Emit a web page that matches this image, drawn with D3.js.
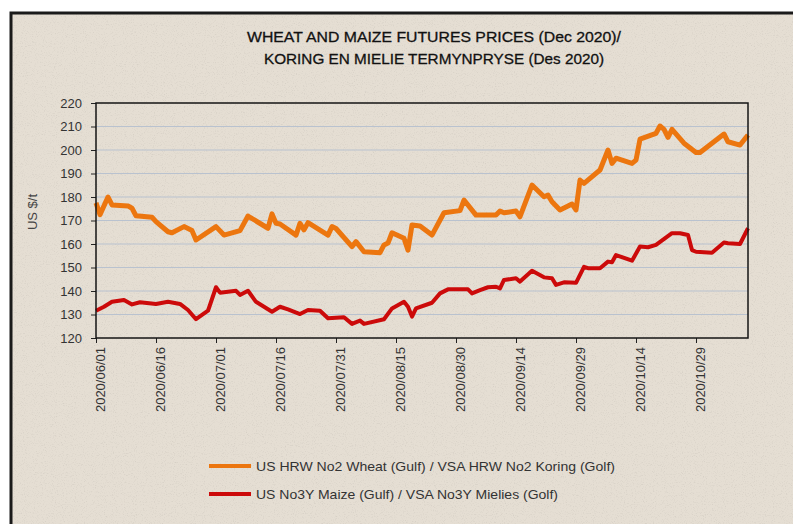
<!DOCTYPE html>
<html><head><meta charset="utf-8">
<script src="https://cdn.jsdelivr.net/npm/d3@7"></script>
<style>html,body{margin:0;padding:0;background:#fff;}svg{display:block;}</style>
</head><body>
<svg id="chart" width="793" height="524"></svg>
<script>
const titleLines = ["WHEAT AND MAIZE FUTURES PRICES (Dec 2020)/", "KORING EN MIELIE TERMYNPRYSE  (Des 2020)"];
const yLabel = "US $/t";
const yTicks = [120,130,140,150,160,170,180,190,200,210,220];
const xTickLabels = ["2020/06/01","2020/06/16","2020/07/01","2020/07/16","2020/07/31","2020/08/15","2020/08/30","2020/09/14","2020/09/29","2020/10/14","2020/10/29"];
const xDomain = ["2020/06/01","2020/11/11"];
const seriesNames = ["US HRW No2 Wheat (Gulf) / VSA HRW No2 Koring (Golf)", "US No3Y Maize (Gulf) / VSA No3Y Mielies (Golf)"];
const seriesColors = ["#ec760f", "#cc0a0a"];

const wheatDates = ["2020/06/01","2020/06/02","2020/06/04","2020/06/05","2020/06/09","2020/06/10","2020/06/11","2020/06/15","2020/06/16","2020/06/19","2020/06/20","2020/06/23","2020/06/25","2020/06/26","2020/07/01","2020/07/03","2020/07/07","2020/07/09","2020/07/14","2020/07/15","2020/07/16","2020/07/17","2020/07/21","2020/07/22","2020/07/23","2020/07/24","2020/07/29","2020/07/30","2020/07/31","2020/08/04","2020/08/05","2020/08/07","2020/08/11","2020/08/12","2020/08/13","2020/08/14","2020/08/17","2020/08/18","2020/08/19","2020/08/21","2020/08/24","2020/08/27","2020/08/31","2020/09/01","2020/09/04","2020/09/09","2020/09/10","2020/09/11","2020/09/14","2020/09/15","2020/09/18","2020/09/21","2020/09/22","2020/09/23","2020/09/25","2020/09/28","2020/09/29","2020/09/30","2020/10/01","2020/10/05","2020/10/07","2020/10/08","2020/10/09","2020/10/13","2020/10/14","2020/10/15","2020/10/19","2020/10/20","2020/10/21","2020/10/22","2020/10/23","2020/10/26","2020/10/29","2020/10/30","2020/11/05","2020/11/06","2020/11/09","2020/11/11"];
const wheatValues = [177.5,172.5,180,176.6,176.2,175.2,172,171.4,169.5,165.2,164.8,167.4,165.7,161.7,167.4,163.8,165.7,171.9,166.7,172.8,168.8,168.5,163.8,168.8,166,169.1,163.8,167.4,166.6,158.9,161,156.7,156.3,159.6,160.4,164.8,162.4,157.4,168.1,167.7,163.8,173.3,174.2,178.7,172.3,172.3,174,173.3,174,171.6,185.1,180.1,180.8,178,174.5,177,174.5,187.2,185.8,191.5,200,194.3,196.5,194.3,195.7,204.6,207.1,210.2,208.8,205.4,208.8,202.9,198.9,198.9,206.8,203.5,202.1,206.4];

const maizeDates = ["2020/06/01","2020/06/03","2020/06/05","2020/06/08","2020/06/10","2020/06/12","2020/06/16","2020/06/19","2020/06/22","2020/06/24","2020/06/26","2020/06/29","2020/07/01","2020/07/02","2020/07/06","2020/07/07","2020/07/09","2020/07/11","2020/07/15","2020/07/17","2020/07/19","2020/07/22","2020/07/24","2020/07/27","2020/07/29","2020/08/02","2020/08/04","2020/08/06","2020/08/07","2020/08/12","2020/08/14","2020/08/17","2020/08/18","2020/08/19","2020/08/20","2020/08/24","2020/08/26","2020/08/28","2020/09/02","2020/09/03","2020/09/05","2020/09/07","2020/09/09","2020/09/10","2020/09/11","2020/09/14","2020/09/15","2020/09/18","2020/09/21","2020/09/23","2020/09/24","2020/09/26","2020/09/29","2020/10/01","2020/10/02","2020/10/05","2020/10/07","2020/10/08","2020/10/09","2020/10/13","2020/10/15","2020/10/17","2020/10/19","2020/10/23","2020/10/25","2020/10/27","2020/10/28","2020/10/29","2020/11/02","2020/11/05","2020/11/06","2020/11/09","2020/11/11"];
const maizeValues = [131.6,133.3,135.4,136.2,134.3,135.2,134.5,135.4,134.5,131.9,128,131.6,141.6,139.3,140.1,138.3,140.1,135.4,131.2,133.3,132.2,130.2,131.9,131.6,128.4,128.8,126,127.4,126,128,132.6,135.4,133.3,129.1,132.6,135,139,140.7,140.7,139,140.4,141.6,141.8,141.1,144.7,145.4,144,148.6,145.8,145.4,142.6,143.7,143.5,150.3,149.7,149.7,152.5,152.2,155.3,152.9,158.9,158.6,159.6,164.6,164.6,163.8,157.4,156.7,156.3,160.6,160.3,160,166.7];

const parse = d3.utcParse("%Y/%m/%d");
const svg = d3.select("#chart");
const W = 793, H = 524;
const plot = {left: 96, right: 748, top: 103, bottom: 338};

// background & frame
svg.append("rect").attr("x",0).attr("y",0).attr("width",W).attr("height",H).attr("fill","#ffffff");
const defs = svg.append("defs");
const f = defs.append("filter").attr("id","grain").attr("x",0).attr("y",0).attr("width","100%").attr("height","100%");
f.append("feTurbulence").attr("type","fractalNoise").attr("baseFrequency","0.9").attr("numOctaves",2).attr("seed",3).attr("result","n");
f.append("feColorMatrix").attr("in","n").attr("type","matrix")
  .attr("values","0 0 0 0 0.45  0 0 0 0 0.42  0 0 0 0 0.38  0 0 0 -1.6 0.75").attr("result","c");
f.append("feComposite").attr("in","c").attr("in2","SourceGraphic").attr("operator","in");
svg.append("rect").attr("x",11).attr("y",13).attr("width",800).attr("height",530).attr("fill","#e5ded3");
svg.append("rect").attr("x",11).attr("y",13).attr("width",800).attr("height",530).attr("fill","#e5ded3").attr("filter","url(#grain)").attr("opacity",0.5);
svg.append("rect").attr("x",11).attr("y",13).attr("width",800).attr("height",530).attr("fill","none").attr("stroke","#1a1a1a").attr("stroke-width",3);

// title
svg.append("g").selectAll("text").data(titleLines).join("text")
  .attr("x",434).attr("y",(d,i)=>42+i*22)
  .attr("text-anchor","middle")
  .attr("font-family","'Liberation Sans Narrow','Arial Narrow','Liberation Sans',Arial,sans-serif")
  .attr("font-size",15).attr("fill","#111").attr("stroke","#111").attr("stroke-width",0.3)
  .attr("textLength",(d,i)=> i===0 ? 374 : 340).attr("lengthAdjust","spacingAndGlyphs")
  .text(d=>d);

// scales
const x = d3.scaleUtc().domain(xDomain.map(parse)).range([plot.left, plot.right]);
const y = d3.scaleLinear().domain([120,220]).range([plot.bottom, plot.top]);

// grid
svg.append("g").selectAll("line").data(yTicks.filter(v=>v>120 && v<220)).join("line")
  .attr("x1",plot.left).attr("x2",plot.right).attr("y1",d=>y(d)).attr("y2",d=>y(d))
  .attr("stroke","#b9c2cf").attr("stroke-width",1);

// y axis
const yAxis = svg.append("g").attr("transform",`translate(${plot.left},0)`)
  .call(d3.axisLeft(y).tickValues(yTicks).tickSize(5).tickPadding(9));
yAxis.select(".domain").remove();
yAxis.selectAll("line").attr("stroke","#222");
yAxis.selectAll("text").attr("font-family","'Liberation Sans',Arial,sans-serif").attr("font-size",13).attr("fill","#333");

// x axis
const xAxis = svg.append("g").attr("transform",`translate(0,${plot.bottom})`)
  .call(d3.axisBottom(x).tickValues(xTickLabels.map(parse)).tickFormat(d3.utcFormat("%Y/%m/%d")).tickSize(5));
xAxis.select(".domain").remove();
xAxis.selectAll("line").attr("stroke","#222");
xAxis.selectAll("text")
  .attr("font-family","'Liberation Sans',Arial,sans-serif").attr("font-size",13).attr("fill","#333")
  .attr("text-anchor","end")
  .attr("x",-9).attr("y",0).attr("dy","0.36em").attr("dx",0)
  .attr("transform","translate(4,0) rotate(-90)");

// y label
svg.append("text").attr("transform","translate(37,212) rotate(-90)")
  .attr("text-anchor","middle").attr("font-family","'Liberation Sans',Arial,sans-serif")
  .attr("font-size",13).attr("fill","#444").text(yLabel);

// lines
const wheat = wheatDates.map((d,i)=>({date:parse(d), v:wheatValues[i]}));
const maize = maizeDates.map((d,i)=>({date:parse(d), v:maizeValues[i]}));
const line = d3.line().x(d=>x(d.date)).y(d=>y(d.v));
svg.append("path").datum(maize).attr("d",line).attr("fill","none")
  .attr("stroke",seriesColors[1]).attr("stroke-width",4).attr("stroke-linejoin","round");
svg.append("path").datum(wheat).attr("d",line).attr("fill","none")
  .attr("stroke",seriesColors[0]).attr("stroke-width",5).attr("stroke-linejoin","round");

// plot frame
svg.append("rect").attr("x",plot.left).attr("y",plot.top).attr("width",plot.right-plot.left).attr("height",plot.bottom-plot.top)
  .attr("fill","none").attr("stroke","#151515").attr("stroke-width",1.5);

// legend
const lg = svg.append("g").selectAll("g").data(seriesNames).join("g")
  .attr("transform",(d,i)=>`translate(209,${466+i*28})`);
lg.append("line").attr("x1",0).attr("x2",42).attr("y1",0).attr("y2",0)
  .attr("stroke",(d,i)=>seriesColors[i]).attr("stroke-width",4);
lg.append("text").attr("x",47).attr("y",0).attr("dy","0.35em")
  .attr("font-family","'Liberation Sans',Arial,sans-serif").attr("font-size",13).attr("fill","#333")
  .attr("textLength",(d,i)=> i===0 ? 359 : 302).attr("lengthAdjust","spacingAndGlyphs")
  .text(d=>d);
</script>
</body></html>
